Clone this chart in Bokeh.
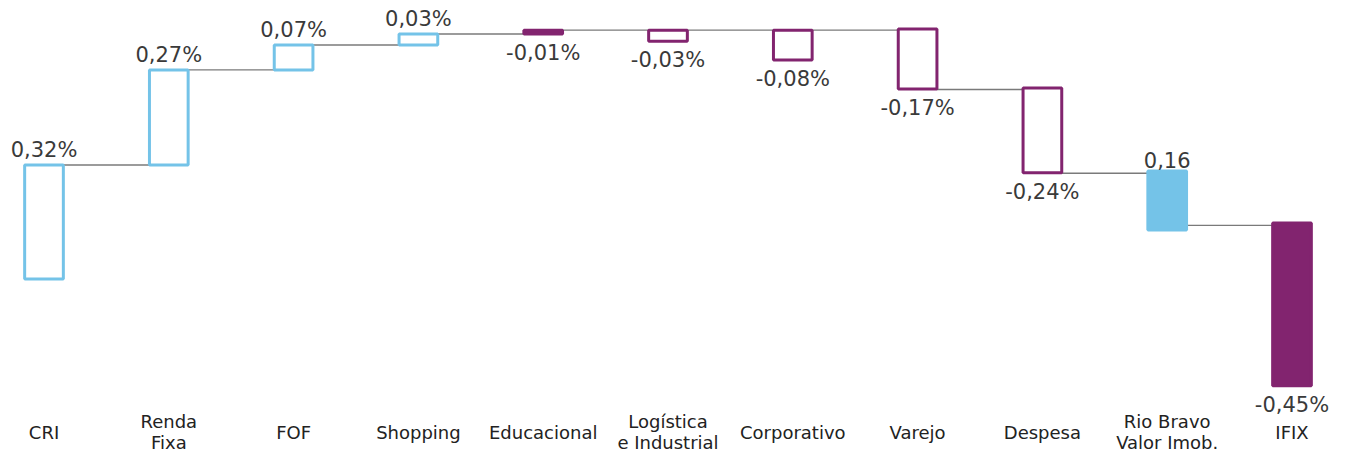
from bokeh.plotting import figure
from bokeh.models import Range1d, ColumnDataSource
from bokeh.embed import file_html
from bokeh.resources import INLINE
from bokeh.core.properties import value

# ---- data ----
categories = ["CRI", "Renda\nFixa", "FOF", "Shopping", "Educacional",
              "Logística\ne Industrial", "Corporativo", "Varejo", "Despesa",
              "Rio Bravo\nValor Imob.", "IFIX"]
values = [0.32, 0.27, 0.07, 0.03, -0.01, -0.03, -0.08, -0.17, -0.24, 0.16, -0.45]
labels = ["0,32%", "0,27%", "0,07%", "0,03%", "-0,01%", "-0,03%", "-0,08%",
          "-0,17%", "-0,24%", "0,16", "-0,45%"]
bar_start = [0.000, 0.321, 0.589, 0.659, 0.690, 0.701, 0.701, 0.704, 0.538, 0.304, 0.158]
bar_end = [0.321, 0.589, 0.659, 0.690, 0.701, 0.670, 0.617, 0.535, 0.299, 0.138, -0.301]
filled = [False, False, False, False, True, False, False, False, False, True, True]
conn_from = [0, 1, 2, 3, 4, 7, 8, 9]
conn_to = [1, 2, 3, 4, 7, 8, 9, 10]
conn_level = [0.321, 0.589, 0.659, 0.690, 0.701, 0.534, 0.298, 0.151]

BLUE = "#74C3E8"
PURPLE = "#82246F"

W, H = 1333, 455
px_per_x = 124.8
px_per_y = 355.0
x0_px = 43.5
y0_px = 278.5

x_start = -x0_px / px_per_x
x_end = (W - x0_px) / px_per_x
y_end = y0_px / px_per_y
y_start = (y0_px - H) / px_per_y

p = figure(width=W, height=H, output_backend="svg", toolbar_location=None,
           x_range=Range1d(x_start, x_end), y_range=Range1d(y_start, y_end),
           min_border=0, outline_line_color=None)
p.axis.visible = False
p.grid.visible = False
p.background_fill_color = "white"

bw = 0.31
xs = list(range(len(categories)))

# connectors
for f, t, lv in zip(conn_from, conn_to, conn_level):
    p.line([f + bw / 2, t - bw / 2], [lv, lv], line_color="#7a7a7a", line_width=1.4)

colors = [BLUE if v > 0 else PURPLE for v in values]
fills = [c if fl else "white" for c, fl in zip(colors, filled)]
tops = [max(a, b) for a, b in zip(bar_start, bar_end)]
bottoms = [min(a, b) for a, b in zip(bar_start, bar_end)]

src = ColumnDataSource(dict(x=xs, top=tops, bottom=bottoms, lc=colors, fc=fills))
p.vbar(x="x", top="top", bottom="bottom", width=bw, source=src,
       line_color="lc", fill_color="fc", line_width=3)

# value labels
pos_x = [x for x, v in zip(xs, values) if v > 0]
pos_y = [t for t, v in zip(tops, values) if v > 0]
pos_t = [l for l, v in zip(labels, values) if v > 0]
neg_x = [x for x, v in zip(xs, values) if v <= 0]
neg_y = [b for b, v in zip(bottoms, values) if v <= 0]
neg_t = [l for l, v in zip(labels, values) if v <= 0]

LBL_FONT = value("DejaVu Sans")
p.text(x=pos_x, y=pos_y, text=pos_t, text_align="center", text_baseline="bottom",
       y_offset=-3, text_font=LBL_FONT, text_font_size="21px",
       text_color="#3a3a3a")
p.text(x=neg_x, y=neg_y, text=neg_t, text_align="center", text_baseline="top",
       y_offset=7, text_font=LBL_FONT, text_font_size="21px",
       text_color="#3a3a3a")

# category labels
single_x = [x for x, c in zip(xs, categories) if "\n" not in c]
single_t = [c for c in categories if "\n" not in c]
multi_x = [x for x, c in zip(xs, categories) if "\n" in c]
line1 = [c.split("\n")[0] for c in categories if "\n" in c]
line2 = [c.split("\n")[1] for c in categories if "\n" in c]

CAT_FONT = value("DejaVu Sans")
p.text(x=single_x, y=[y_start] * len(single_x), text=single_t, text_align="center",
       text_baseline="middle", y_offset=-23, text_font=CAT_FONT,
       text_font_size="18px", text_color="#222222")
p.text(x=multi_x, y=[y_start] * len(multi_x), text=line1, text_align="center",
       text_baseline="middle", y_offset=-34, text_font=CAT_FONT,
       text_font_size="18px", text_color="#222222")
p.text(x=multi_x, y=[y_start] * len(multi_x), text=line2, text_align="center",
       text_baseline="middle", y_offset=-13, text_font=CAT_FONT,
       text_font_size="18px", text_color="#222222")

open("out.html", "w").write(file_html(p, INLINE))
